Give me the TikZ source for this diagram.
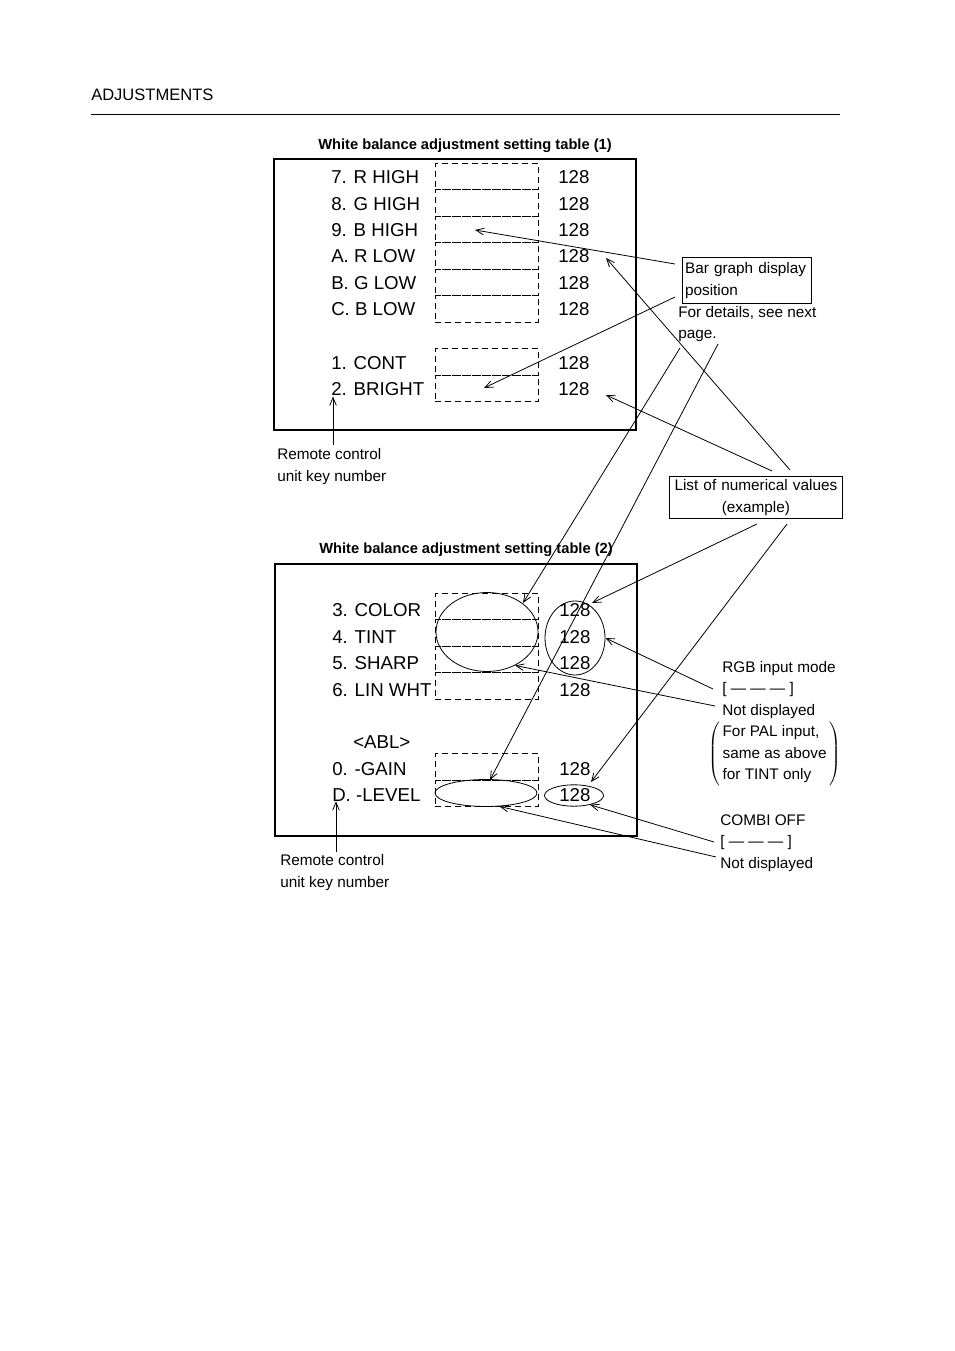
\documentclass[tikz,border=0pt]{standalone}
\usepackage{fontspec}
\setmainfont{Liberation Sans}
\usetikzlibrary{arrows.meta, positioning, shapes.geometric}

\begin{document}
\begin{tikzpicture}[
    x=0.75pt, y=-0.75pt,
    tbox/.style={draw=black, line width=0.8pt},
    cell/.style={rectangle, draw=black, line width=0.6pt, dash pattern=on 4.5pt off 3pt, minimum width=77.3pt, minimum height=19.9pt, inner sep=0pt},
    row/.style={anchor=base west, inner sep=0pt, font=\fontsize{14}{17}\selectfont},
    ttl/.style={anchor=base, inner sep=0pt, font=\bfseries\fontsize{11}{13}\selectfont},
    note/.style={anchor=base west, inner sep=0pt, align=left, font=\fontsize{11.5}{16}\selectfont},
    nbox/.style={rectangle, draw=black, line width=0.6pt, inner sep=2pt, font=\fontsize{11.5}{16}\selectfont},
    ring/.style={ellipse, draw=black, line width=0.6pt, inner sep=0pt},
    arr/.style={-{Straight Barb[length=6pt, width=5pt]}, line width=0.6pt, color=black}
]
\useasboundingbox (0,0) rectangle (954,1351);

% page head
\node[anchor=base west, inner sep=0pt, font=\fontsize{12.4}{14}\selectfont] (page_head) at (91,101) {ADJUSTMENTS};
\draw[line width=0.7pt] (91,114) -- (840,114);

% table (1)
\node[ttl] (t1_title) at (465,150) {White balance adjustment setting table (1)};
\draw[tbox] (274,159) rectangle (636,430);

\node[cell] (t1_b7) at (486.5,176.5) {};
\node[cell] (t1_b8) at (486.5,203) {};
\node[cell] (t1_b9) at (486.5,229.5) {};
\node[cell] (t1_ba) at (486.5,256) {};
\node[cell] (t1_bb) at (486.5,282.5) {};
\node[cell] (t1_bc) at (486.5,309) {};
\node[cell] (t1_b1) at (486.5,362) {};
\node[cell] (t1_b2) at (486.5,388.5) {};

\node[row] (t1_k7) at (331,184) {7. R HIGH};
\node[row] (t1_k8) at (331,211) {8. G HIGH};
\node[row] (t1_k9) at (331,237) {9. B HIGH};
\node[row] (t1_ka) at (331,263) {A. R LOW};
\node[row] (t1_kb) at (331,290) {B. G LOW};
\node[row] (t1_kc) at (331,316) {C. B LOW};
\node[row] (t1_k1) at (331,369) {1. CONT};
\node[row] (t1_k2) at (331,396) {2. BRIGHT};

\node[row] (t1_v7) at (558,184) {128};
\node[row] (t1_v8) at (558,211) {128};
\node[row] (t1_v9) at (558,237) {128};
\node[row] (t1_va) at (558,263) {128};
\node[row] (t1_vb) at (558,290) {128};
\node[row] (t1_vc) at (558,316) {128};
\node[row] (t1_v1) at (558,369) {128};
\node[row] (t1_v2) at (558,396) {128};

\node[note] (t1_key) at (277,481) {Remote control\\unit key number};

% notes on the right
\node[nbox, anchor=north west, text width=92.75pt, minimum height=34.5pt, align=left] (bar_note) at (682,257) {Bar graph display\\position};
\node[note] (page_note) at (678,339) {For details, see next\\page.};
\node[nbox, anchor=north west, text width=125.75pt, minimum height=31.5pt, align=center] (list_note) at (669,476) {List of numerical values\\(example)};

% table (2)
\node[ttl] (t2_title) at (466,553) {White balance adjustment setting table (2)};
\draw[tbox] (275,564) rectangle (637,836);

\node[cell] (t2_b3) at (486.5,606.5) {};
\node[cell] (t2_b4) at (486.5,633) {};
\node[cell] (t2_b5) at (486.5,659.5) {};
\node[cell] (t2_b6) at (486.5,686) {};
\node[cell] (t2_b0) at (486.5,767) {};
\node[cell] (t2_bd) at (486.5,793.5) {};

\node[row] (t2_k3) at (332,616) {3. COLOR};
\node[row] (t2_k4) at (332,643) {4. TINT};
\node[row] (t2_k5) at (332,669) {5. SHARP};
\node[row] (t2_k6) at (332,696) {6. LIN WHT};
\node[row] (t2_abl) at (353,748) {<ABL>};
\node[row] (t2_k0) at (332,775) {0. -GAIN};
\node[row] (t2_kd) at (332,801) {D. -LEVEL};

\node[row] (t2_v3) at (559,616) {128};
\node[row] (t2_v4) at (559,643) {128};
\node[row] (t2_v5) at (559,669) {128};
\node[row] (t2_v6) at (559,696) {128};
\node[row] (t2_v0) at (559,775) {128};
\node[row] (t2_vd) at (559,801) {128};

\node[ring, minimum width=76.5pt, minimum height=59.25pt] (ring_bar) at (487,632) {};
\node[ring, minimum width=45pt, minimum height=55.5pt] (ring_val) at (575,638) {};
\node[ring, minimum width=76.5pt, minimum height=20.25pt] (ring_lvl) at (486,793) {};
\node[ring, minimum width=44.25pt, minimum height=16pt] (ring_lvl_val) at (574,795.5) {};

\node[note] (t2_key) at (280,887) {Remote control\\unit key number};

\node[note] (rgb_note) at (722,715) {RGB input mode\\{[} — — — {]}\\Not displayed};
\node[note, anchor=west] (pal_note) at (708,754) {$\left(\,\mbox{\begin{tabular}{@{}l@{}}For PAL input,\\same as above\\for TINT only\end{tabular}}\,\right)$};
\node[note] (combi_note) at (720,868) {COMBI OFF\\{[} — — — {]}\\Not displayed};

% connector ends
\coordinate (bar_a) at (675,264);
\coordinate (bar_b) at (675,297);
\coordinate (list_a) at (790,470);
\coordinate (list_b) at (772,471);
\coordinate (list_c) at (757,524);
\coordinate (list_d) at (787,524);
\coordinate (page_a) at (680,348);
\coordinate (page_b) at (718,344);
\coordinate (rgb_a) at (713,689);
\coordinate (rgb_b) at (715,706);
\coordinate (combi_a) at (714,842);
\coordinate (combi_b) at (716,857);
\coordinate (t1_key_top) at (333,445);
\coordinate (t2_key_top) at (336,852);
\coordinate (h_b9) at (475,230);
\coordinate (h_b2) at (484,388);
\coordinate (h_va) at (606,258);
\coordinate (h_v2) at (606,395);
\coordinate (h_bar) at (523,603);
\coordinate (h_lvl) at (490,780);
\coordinate (h_val) at (592,603);
\coordinate (h_lvl_val) at (591,782);

\draw[arr] (bar_a) -- (h_b9);
\draw[arr] (bar_b) -- (h_b2);
\draw[arr] (list_a) -- (h_va);
\draw[arr] (list_b) -- (h_v2);
\draw[arr] (page_a) -- (h_bar);
\draw[arr] (page_b) -- (h_lvl);
\draw[arr] (list_c) -- (h_val);
\draw[arr] (list_d) -- (h_lvl_val);
\draw[arr] (t1_key_top) -- (t1_k2.south west -| t1_key_top);
\draw[arr] (t2_key_top) -- (t2_kd.south west -| t2_key_top);
\draw[arr] (rgb_a) -- (ring_val.east);
\draw[arr] (rgb_b) -- (ring_bar.-50);
\draw[arr] (combi_a) -- (ring_lvl_val.-30);
\draw[arr] (combi_b) -- (ring_lvl.-45);

\end{tikzpicture}
\end{document}
